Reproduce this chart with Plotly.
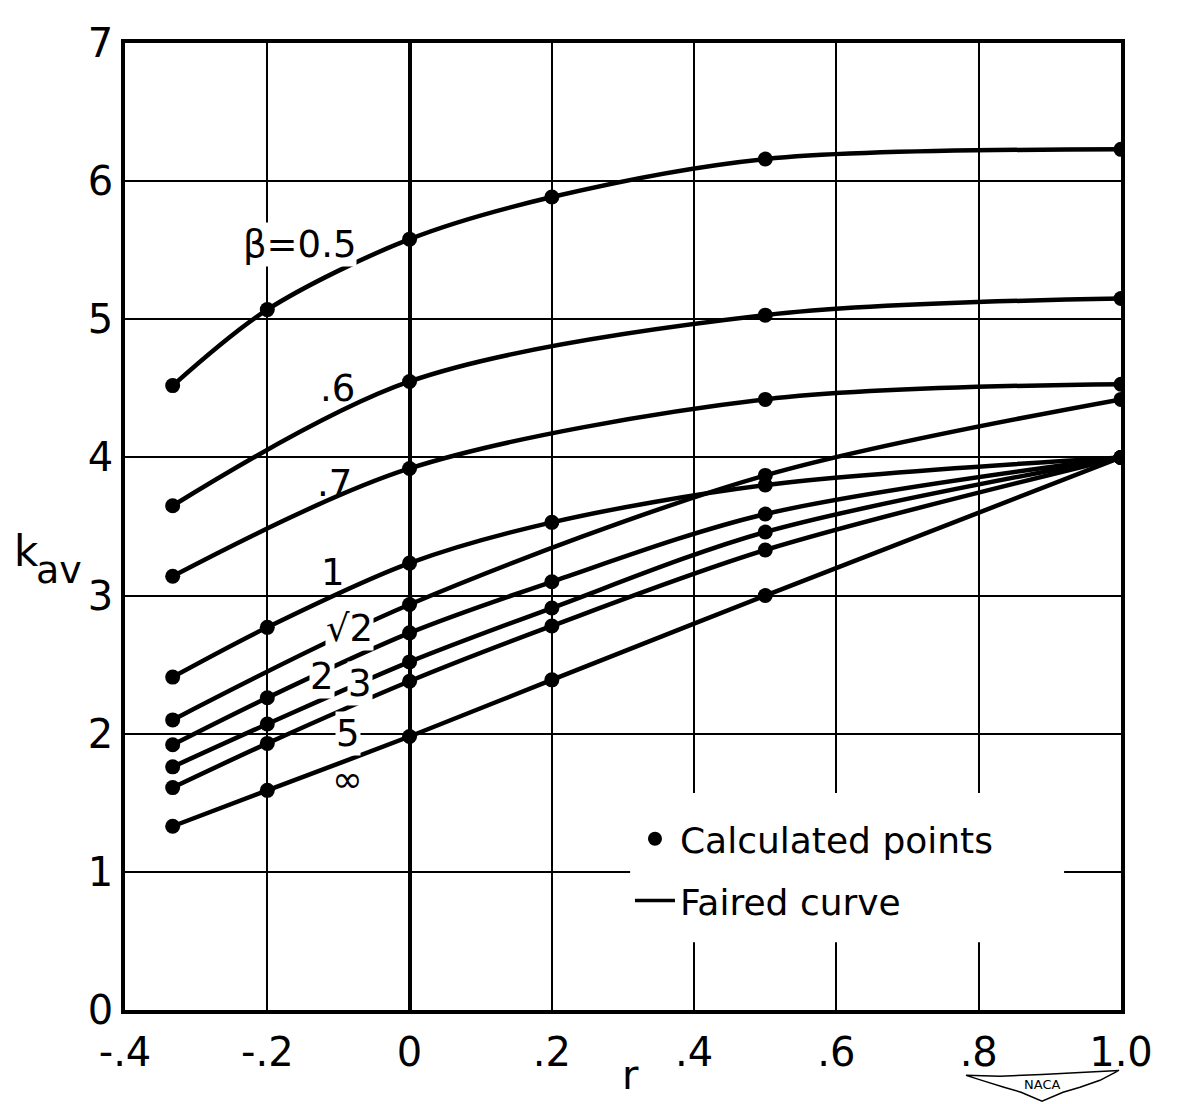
import plotly.graph_objects as go

# ---------------- data ----------------
r_six = [-0.333, -0.2, 0.0, 0.2, 0.5, 1.0]
r_four = [-0.333, 0.0, 0.5, 1.0]

k_beta_05 = [4.52, 5.07, 5.58, 5.885, 6.16, 6.23]
k_beta_06 = [3.65, 4.55, 5.03, 5.15]
k_beta_07 = [3.14, 3.92, 4.42, 4.53]
k_beta_1 = [2.41, 2.77, 3.235, 3.53, 3.80, 4.00]
k_beta_sqrt2 = [2.10, 2.935, 3.87, 4.42]
k_beta_2 = [1.92, 2.26, 2.73, 3.10, 3.59, 4.00]
k_beta_3 = [1.76, 2.07, 2.52, 2.91, 3.46, 4.00]
k_beta_5 = [1.61, 1.93, 2.38, 2.78, 3.33, 4.00]
k_beta_inf = [1.33, 1.59, 1.98, 2.39, 3.00, 4.00]

series = [
    ("β=0.5", r_six, k_beta_05),
    (".6", r_four, k_beta_06),
    (".7", r_four, k_beta_07),
    ("1", r_six, k_beta_1),
    ("√2", r_four, k_beta_sqrt2),
    ("2", r_six, k_beta_2),
    ("3", r_six, k_beta_3),
    ("5", r_six, k_beta_5),
    ("∞", r_six, k_beta_inf),
]

x_tickvals = [-0.4, -0.2, 0.0, 0.2, 0.4, 0.6, 0.8, 1.0]
x_ticktext = ["-.4", "-.2", "0", ".2", ".4", ".6", ".8", "1.0"]
y_tickvals = [0, 1, 2, 3, 4, 5, 6, 7]
y_ticktext = ["0", "1", "2", "3", "4", "5", "6", "7"]

# curve label placement (layout, not data)
label_pos = {
    "β=0.5": (-0.155, 5.54, True),
    ".6": (-0.102, 4.50, False),
    ".7": (-0.106, 3.81, False),
    "1": (-0.107, 3.17, False),
    "√2": (-0.084, 2.765, True),
    "2": (-0.123, 2.415, True),
    "3": (-0.070, 2.366, True),
    "5": (-0.086, 2.00, True),
    "∞": (-0.087, 1.67, False),
}

FONT = "DejaVu Sans"
OFF = 8  # browser body margin
W, H = 1191 - OFF, 1104 - OFF
# plot area in viewport pixels
VL, VR, VT, VB = 125, 1121, 34, 1010
L, R, T, B = VL - OFF, VR - OFF, VT - OFF, VB - OFF


def paper(xv, yv):
    """viewport pixel -> paper coordinates"""
    return (xv - VL) / (VR - VL), (VB - yv) / (VB - VT)


fig = go.Figure()

for name, rr, kk in series:
    fig.add_trace(go.Scatter(
        x=rr, y=kk, mode="lines+markers",
        line=dict(color="black", width=4.5, shape="spline", smoothing=0.9),
        marker=dict(color="black", size=15),
        showlegend=False, hoverinfo="skip", name=name,
    ))

# legend entries
fig.add_trace(go.Scatter(x=[None], y=[None], mode="markers",
                         marker=dict(color="black", size=14),
                         name="Calculated points", legendgroup="a"))
fig.add_trace(go.Scatter(x=[None], y=[None], mode="lines",
                         line=dict(color="black", width=3.5),
                         name="Faired curve", legendgroup="b"))

annotations = []
for name, _, _ in series:
    lx, ly, bg = label_pos[name]
    annotations.append(dict(
        x=lx, y=ly, xref="x", yref="y", text=name, showarrow=False,
        font=dict(family=FONT, size=37, color="black"),
        bgcolor="white" if bg else "rgba(0,0,0,0)", borderpad=0,
        xanchor="center", yanchor="middle",
    ))

# axis titles
kx, ky = paper(26, 547)
annotations.append(dict(x=kx, y=ky, xref="paper", yref="paper",
                        text="k", showarrow=False, xanchor="center", yanchor="middle",
                        font=dict(family=FONT, size=42, color="black")))
ax_, ay_ = paper(59, 566)
annotations.append(dict(x=ax_, y=ay_, xref="paper", yref="paper",
                        text="av", showarrow=False, xanchor="center", yanchor="middle",
                        font=dict(family=FONT, size=38, color="black")))
rx, ry = paper(630, 1076)
annotations.append(dict(x=rx, y=ry, xref="paper", yref="paper",
                        text="r", showarrow=False, xanchor="center", yanchor="middle",
                        font=dict(family=FONT, size=40, color="black")))

# NACA emblem
tx, ty = paper(1042, 1085)
annotations.append(dict(x=tx, y=ty, xref="paper", yref="paper", text="NACA",
                        showarrow=False, xanchor="center", yanchor="middle",
                        font=dict(family=FONT, size=13, color="black")))
outline = [(966, 1076), (1000, 1077), (1042, 1075), (1085, 1073), (1119, 1071),
           (1100, 1081), (1080, 1088), (1063, 1093), (1042, 1102),
           (1021, 1093), (1004, 1088), (985, 1082)]
pp = [paper(a, b) for a, b in outline]
path = "M " + " L ".join(f"{a:.4f},{b:.4f}" for a, b in pp) + " Z"
shapes = [
    dict(type="path", xref="paper", yref="paper", path=path,
         line=dict(color="black", width=1.5), fillcolor="rgba(0,0,0,0)"),
    # white gap behind the key, as in the reference
    dict(type="rect", xref="x", yref="y", x0=0.31, x1=0.92, y0=0.49, y1=1.57,
         fillcolor="white", line=dict(width=0), layer="above"),
]

fig.update_layout(
    width=W, height=H,
    margin=dict(l=L, r=W - R, t=T, b=H - B, pad=0),
    paper_bgcolor="white", plot_bgcolor="white",
    font=dict(family=FONT, color="black"),
    xaxis=dict(
        range=[-0.4, 1.0], tickvals=x_tickvals, ticktext=x_ticktext,
        showgrid=True, gridcolor="black", gridwidth=2,
        zeroline=True, zerolinecolor="black", zerolinewidth=4,
        showline=True, linecolor="black", linewidth=3.5, mirror=True,
        ticks="", ticklabelstandoff=4, ticklabeloverflow="allow",
        tickfont=dict(family=FONT, size=40, color="black"),
    ),
    yaxis=dict(
        range=[0, 7], tickvals=y_tickvals, ticktext=y_ticktext,
        showgrid=True, gridcolor="black", gridwidth=2,
        zeroline=False,
        showline=True, linecolor="black", linewidth=3.5, mirror=True,
        ticks="", ticklabelstandoff=0, ticklabeloverflow="allow",
        tickfont=dict(family=FONT, size=40, color="black"),
    ),
    legend=dict(x=0.507, y=0.208, xanchor="left", yanchor="top",
                bgcolor="rgba(0,0,0,0)", borderwidth=0, tracegroupgap=12,
                itemwidth=40, font=dict(family=FONT, size=36, color="black")),
    annotations=annotations,
    shapes=shapes,
)

fig.write_html("out.html")
